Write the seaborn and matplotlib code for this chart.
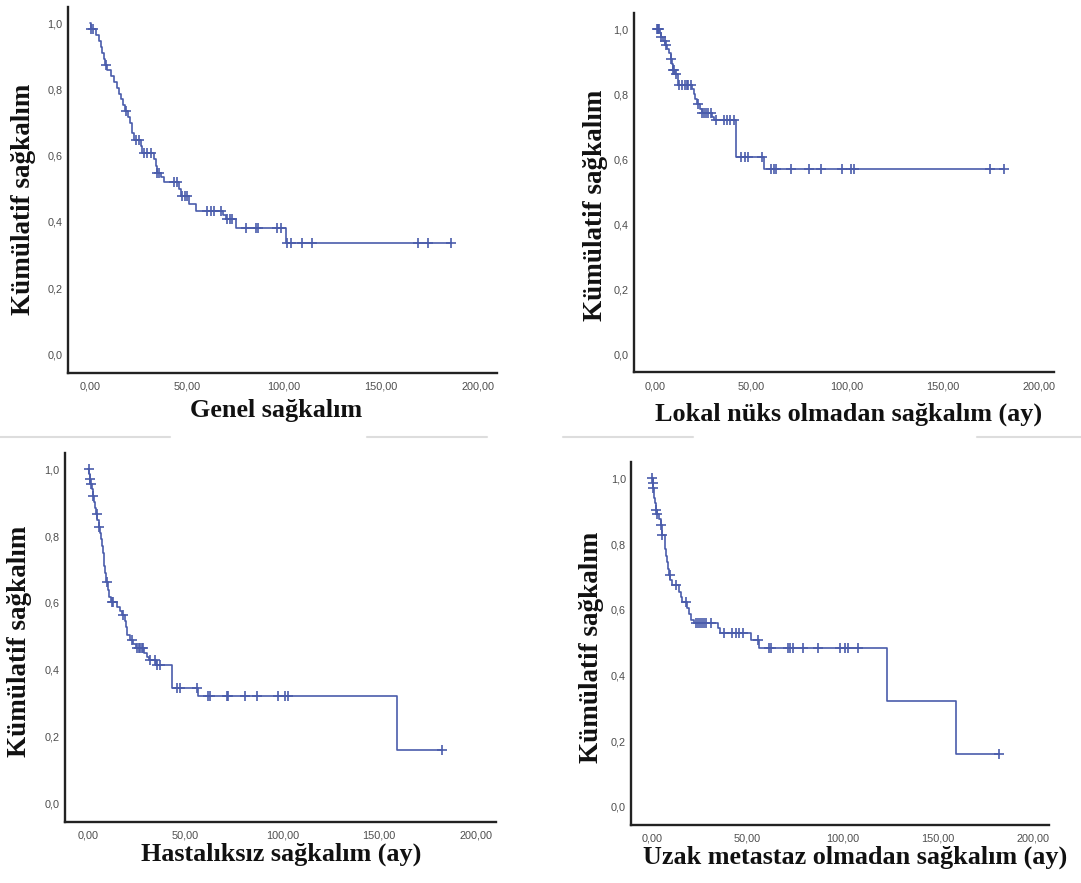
import numpy as np
import pandas as pd
import matplotlib
matplotlib.use("Agg")
import matplotlib.pyplot as plt
import seaborn as sns
from matplotlib.lines import Line2D

# Kaplan-Meier curves (months, cumulative survival)
genel_event_t = [0.3, 3.0, 4.5, 5.5, 6.2, 7.0, 7.8, 9.0, 11.0, 12.5, 14.0, 15.0, 15.8, 17.0,
                 18.0, 19.5, 20.5, 21.8, 22.5, 26.1, 27.0, 33.0, 33.8, 34.5, 36.5, 38.1,
                 45.9, 47.0, 51.0, 54.5, 68.5, 70.0, 75.1, 100.9]
genel_surv = [0.982, 0.965, 0.947, 0.929, 0.911, 0.893, 0.875, 0.858, 0.840, 0.823, 0.805, 0.787,
              0.770, 0.752, 0.735, 0.717, 0.700, 0.668, 0.648, 0.628, 0.609, 0.589, 0.568, 0.548,
              0.535, 0.522, 0.500, 0.477, 0.455, 0.432, 0.421, 0.410, 0.382, 0.336]
genel_censor_t = [0.8, 1.5, 8.1, 18.4, 23.5, 25.3, 27.8, 29.5, 31.3, 34.7, 35.5, 43.3, 45.0,
                  47.6, 48.8, 50.2, 60.5, 62.2, 63.9, 67.4, 70.8, 72.0, 73.4, 80.2, 85.4, 86.6,
                  96.6, 98.3, 101.7, 103.4, 109.5, 114.6, 169.0, 174.0, 186.0]

lokal_event_t = [2.4, 3.2, 4.0, 5.5, 6.5, 7.5, 8.5, 9.0, 9.3, 10.5, 11.8, 12.2, 19.5, 20.2,
                 21.0, 22.0, 23.5, 24.5, 29.8, 30.6, 42.5, 56.6]
lokal_surv = [0.988, 0.976, 0.964, 0.952, 0.940, 0.928, 0.910, 0.892, 0.875, 0.863, 0.846, 0.830,
              0.815, 0.800, 0.785, 0.770, 0.755, 0.742, 0.730, 0.720, 0.608, 0.569]
lokal_censor_t = [0.9, 1.4, 1.8, 2.2, 3.4, 5.1, 6.0, 8.5, 9.4, 10.0, 11.1, 12.8, 14.0, 15.5,
                  16.5, 17.5, 18.8, 22.2, 24.8, 25.8, 26.8, 27.8, 29.0, 31.6, 35.9, 37.5, 39.0,
                  41.0, 44.9, 46.7, 48.4, 55.9, 60.4, 62.1, 63.0, 70.8, 80.3, 86.7, 97.6, 102.0,
                  103.9, 174.6, 181.9]

hastalik_event_t = [0.3, 0.8, 1.0, 1.8, 2.4, 2.8, 3.5, 4.0, 4.6, 5.3, 6.3, 6.8, 7.2, 7.6, 7.9,
                    8.2, 8.5, 8.9, 10.0, 10.5, 11.5, 14.6, 16.5, 17.5, 18.8, 19.3, 19.8, 21.5,
                    23.0, 24.5, 28.8, 30.5, 31.5, 35.0, 43.0, 56.7, 159.3]
hastalik_surv = [0.985, 0.970, 0.955, 0.940, 0.920, 0.903, 0.885, 0.866, 0.848, 0.828, 0.808,
                 0.790, 0.770, 0.750, 0.730, 0.710, 0.690, 0.664, 0.640, 0.619, 0.604, 0.589,
                 0.576, 0.564, 0.545, 0.527, 0.505, 0.489, 0.476, 0.464, 0.450, 0.439, 0.429,
                 0.414, 0.345, 0.322, 0.161]
hastalik_censor_t = [0.2, 0.9, 1.2, 2.6, 4.3, 5.5, 9.5, 12.0, 12.9, 18.0, 22.3, 25.0, 26.0,
                     26.8, 27.5, 28.2, 31.8, 34.4, 35.6, 36.9, 45.5, 47.3, 55.8, 61.9, 62.7,
                     71.3, 72.2, 80.8, 86.8, 97.9, 101.4, 103.1, 182.3]

uzak_event_t = [0.2, 0.5, 0.8, 1.2, 1.5, 1.8, 2.5, 3.5, 4.4, 5.0, 5.3, 6.5, 7.0, 7.5, 7.9, 8.3,
                8.8, 9.5, 10.6, 14.1, 15.0, 15.8, 18.5, 19.5, 20.2, 22.0, 34.5, 35.5, 52.0,
                56.3, 123.2, 159.6]
uzak_surv = [0.985, 0.970, 0.955, 0.940, 0.925, 0.905, 0.893, 0.875, 0.858, 0.842, 0.827, 0.805,
             0.785, 0.765, 0.745, 0.725, 0.705, 0.690, 0.675, 0.655, 0.640, 0.624, 0.605, 0.587,
             0.569, 0.560, 0.545, 0.530, 0.508, 0.482, 0.321, 0.161]
uzak_censor_t = [0.1, 0.3, 0.6, 2.0, 2.8, 4.4, 5.3, 9.2, 12.3, 17.6, 22.9, 24.0, 25.0, 26.0,
                 27.0, 28.5, 30.8, 37.9, 42.0, 44.0, 45.5, 47.5, 55.5, 61.6, 62.5, 71.3, 72.5,
                 74.0, 79.2, 87.1, 98.6, 101.2, 103.0, 108.3, 182.2]

x_ticks = [0, 50, 100, 150, 200]
x_tick_labels = ["0,00", "50,00", "100,00", "150,00", "200,00"]
y_ticks = [0.0, 0.2, 0.4, 0.6, 0.8, 1.0]
y_tick_labels = ["0,0", "0,2", "0,4", "0,6", "0,8", "1,0"]
y_title = "Kümülatif sağkalım"
x_titles = ["Genel sağkalım", "Lokal nüks olmadan sağkalım (ay)",
            "Hastalıksız sağkalım (ay)", "Uzak metastaz olmadan sağkalım (ay)"]

curves = [
    (genel_event_t, genel_surv, genel_censor_t),
    (lokal_event_t, lokal_surv, lokal_censor_t),
    (hastalik_event_t, hastalik_surv, hastalik_censor_t),
    (uzak_event_t, uzak_surv, uzak_censor_t),
]

W, H = 1081, 883
# axes box in pixels: left, top, right, bottom ; x limits ; label centres (px)
layout = [
    dict(box=(68, 6.7, 497, 372.7), xlim=(-11.3, 209.8), ylab=(24, 199), xlab=(276, 410)),
    dict(box=(634, 13, 1054, 372.2), xlim=(-10.9, 208.0), ylab=(595, 205), xlab=(849, 414)),
    dict(box=(65, 452.6, 496, 821.7), xlim=(-12.0, 210.2), ylab=(20, 641), xlab=(281, 854)),
    dict(box=(631.4, 462, 1049, 824.8), xlim=(-10.9, 208.6), ylab=(592, 647), xlab=(855, 857)),
]

line_color = "#4a5cab"
serif = ["Liberation Serif", "DejaVu Serif"]
sans = ["Liberation Sans", "DejaVu Sans"]

sns.set_theme(style="white")
plt.rcParams["font.family"] = sans

fig = plt.figure(figsize=(W / 100, H / 100), dpi=100)


def km_frame(event_t, surv, censor_t):
    t = [0.0] + list(event_t) + [max(censor_t)]
    s = [1.0] + list(surv) + [surv[-1]]
    return pd.DataFrame({"t": t, "s": s})


def censor_frame(event_t, surv, censor_t):
    levels = np.array([1.0] + list(surv))
    idx = np.searchsorted(np.array(event_t), np.array(censor_t), side="right")
    return pd.DataFrame({"t": censor_t, "s": levels[idx]})


for (ev, sv, cens), lay, xt in zip(curves, layout, x_titles):
    l, t, r, b = lay["box"]
    ax = fig.add_axes([l / W, 1 - b / H, (r - l) / W, (b - t) / H])
    ax.set_facecolor("none")

    steps = km_frame(ev, sv, cens)
    sns.lineplot(data=steps, x="t", y="s", drawstyle="steps-post", estimator=None,
                 sort=False, color=line_color, linewidth=1.2, ax=ax)
    marks = censor_frame(ev, sv, cens)
    ax.plot(marks["t"], marks["s"], linestyle="none", marker="+", markersize=6.5,
            markeredgewidth=1.2, color=line_color)

    ax.set_xlim(*lay["xlim"])
    ax.set_ylim(-0.055, 1.05)
    ax.set_xticks(x_ticks)
    ax.set_xticklabels(x_tick_labels)
    ax.set_yticks(y_ticks)
    ax.set_yticklabels(y_tick_labels)
    ax.tick_params(axis="both", labelsize=7.8, labelcolor="#4d4d4d", colors="#333333",
                   direction="out", width=0.9)
    ax.tick_params(axis="x", length=3.5, pad=3)
    ax.tick_params(axis="y", length=2.5, pad=1.5)
    for lab in ax.get_xticklabels() + ax.get_yticklabels():
        lab.set_family(sans)

    sns.despine(ax=ax)
    for side in ("left", "bottom"):
        ax.spines[side].set_color("#222222")
        ax.spines[side].set_linewidth(1.7)

    ax.set_xlabel(xt, fontsize=18.8, fontweight="bold", family=serif, color="#111111")
    ax.set_ylabel(y_title, fontsize=19.5, fontweight="bold", family=serif, color="#111111")
    ax.xaxis.label.set_va("center")
    ax.yaxis.label.set_va("center")
    xx, xy = lay["xlab"]
    yx, yy = lay["ylab"]
    ax.xaxis.set_label_coords((xx - l) / (r - l), (b - xy) / (b - t))
    ax.yaxis.set_label_coords((yx - l) / (r - l), (b - yy) / (b - t))

# thin grey page rules between the rows
for x0, x1 in [(0, 170), (367, 487), (563, 693), (977, 1081)]:
    fig.add_artist(Line2D([x0 / W, x1 / W], [1 - 437 / H] * 2, color="#dddddd", lw=1.5))

fig.savefig("out.png", dpi=100, facecolor="white")
